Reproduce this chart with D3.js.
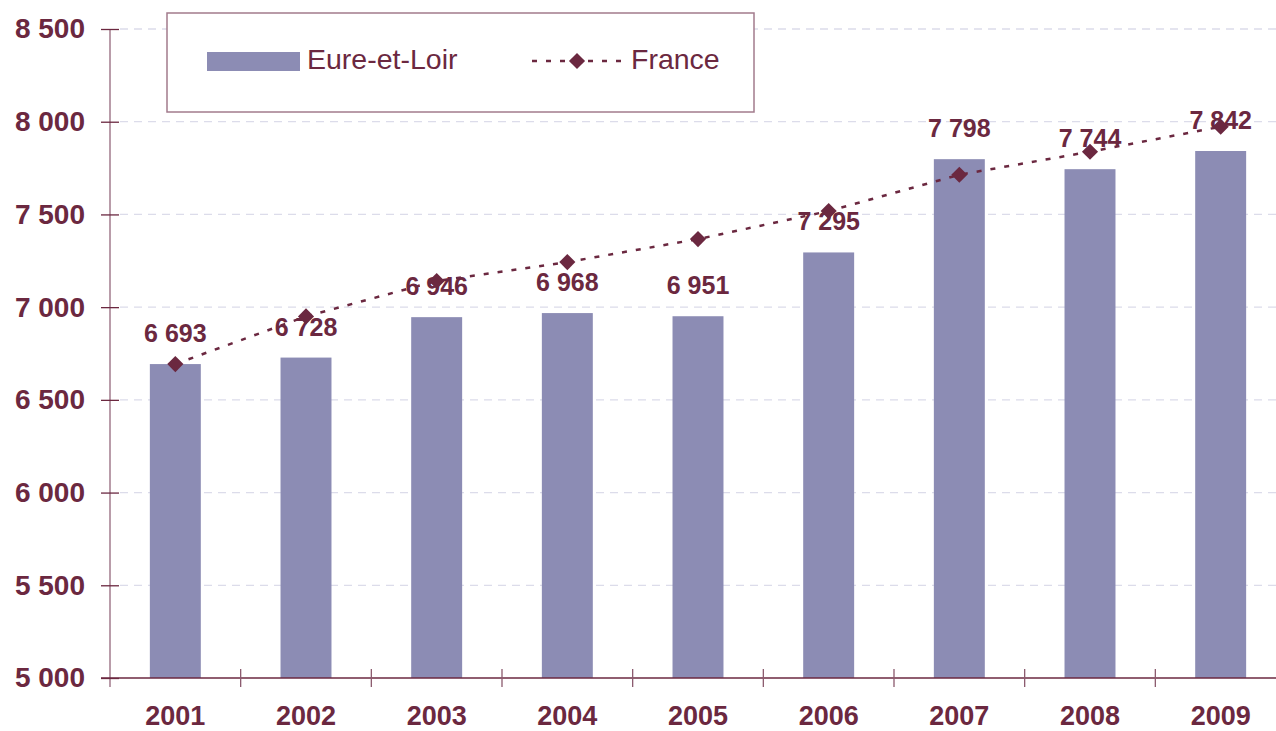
<!DOCTYPE html>
<html>
<head>
<meta charset="utf-8">
<script src="https://cdn.jsdelivr.net/npm/d3@7"></script>
<style>
  body { margin: 0; background: #fff; }
  svg { display: block; font-family: "Liberation Sans", Arial, sans-serif; }
</style>
</head>
<body>
<svg width="1276" height="731"></svg>
<script>
var years = ["2001", "2002", "2003", "2004", "2005", "2006", "2007", "2008", "2009"]
var eureEtLoir = [6693, 6728, 6946, 6968, 6951, 7295, 7798, 7744, 7842]
var france = [6693, 6950, 7141, 7243, 7367, 7518, 7714, 7838, 7973]
var yTicks = [5000, 5500, 6000, 6500, 7000, 7500, 8000, 8500]

var maroon = "#6b2840"
var barColor = "#8c8cb4"
var fmt = function (v) { return d3.format(",")(v).replace(",", " ") }

var svg = d3.select("svg")

var x = d3.scaleBand().domain(years).range([110, 1286]).paddingInner(0.61).paddingOuter(0.305)
var xCat = d3.scaleBand().domain(years).range([110, 1286])
var y = d3.scaleLinear().domain([5000, 8500]).range([678, 29])

// gridlines
svg.append("g")
  .selectAll("line")
  .data(yTicks.filter(d => d > 5000))
  .enter()
  .append("line")
  .attr("x1", 120).attr("x2", 1276)
  .attr("y1", d => y(d)).attr("y2", d => y(d))
  .attr("stroke", "#dcdcea")
  .attr("stroke-width", 1.3)
  .attr("stroke-dasharray", "8,6")

// bars
svg.append("g")
  .selectAll("rect")
  .data(years)
  .enter()
  .append("rect")
  .attr("x", d => x(d))
  .attr("width", x.bandwidth())
  .attr("y", (d, i) => y(eureEtLoir[i]))
  .attr("height", (d, i) => y(5000) - y(eureEtLoir[i]))
  .attr("fill", barColor)

// y axis
var yAxis = svg.append("g").attr("transform", "translate(110,0)")
  .call(d3.axisLeft(y).tickValues(yTicks).tickSize(9).tickFormat(fmt).tickPadding(16))
yAxis.select(".domain").attr("stroke", "#a27b8c").attr("stroke-width", 1.5).attr("d", "M0,29V687")
yAxis.selectAll(".tick line").attr("stroke", maroon).attr("stroke-width", 1.3).attr("x2", -9).attr("x1", 9)
yAxis.selectAll(".tick text")
  .attr("fill", maroon).attr("font-size", 28).attr("font-weight", "bold")
  .attr("font-family", "Liberation Sans, Arial, sans-serif")

// x axis
var xAxis = svg.append("g").attr("transform", "translate(0,678)")
  .call(d3.axisBottom(xCat).tickSize(0).tickPadding(0))
xAxis.select(".domain").attr("stroke", maroon).attr("stroke-width", 1.5).attr("d", "M101,0H1276")
xAxis.selectAll(".tick text")
  .attr("fill", maroon).attr("font-size", 27).attr("font-weight", "bold")
  .attr("font-family", "Liberation Sans, Arial, sans-serif")
  .attr("dy", 0).attr("y", 47)
svg.append("g")
  .selectAll("line")
  .data(years)
  .enter()
  .append("line")
  .attr("x1", d => xCat(d) + xCat.bandwidth()).attr("x2", d => xCat(d) + xCat.bandwidth())
  .attr("y1", 669).attr("y2", 687)
  .attr("stroke", "#8b5a6e").attr("stroke-width", 1.3)

// france line
var line = d3.line()
  .x((d, i) => xCat(years[i]) + xCat.bandwidth() / 2)
  .y(d => y(d))
svg.append("path")
  .datum(france)
  .attr("d", line)
  .attr("fill", "none")
  .attr("stroke", maroon)
  .attr("stroke-width", 2.5)
  .attr("stroke-dasharray", "5,9")

svg.append("g")
  .selectAll("path")
  .data(france)
  .enter()
  .append("path")
  .attr("d", d3.symbol().type(d3.symbolSquare).size(130))
  .attr("transform", (d, i) => "translate(" + (xCat(years[i]) + xCat.bandwidth() / 2) + "," + y(d) + ") rotate(45)")
  .attr("fill", maroon)

// value labels
svg.append("g")
  .selectAll("text")
  .data(years)
  .enter()
  .append("text")
  .attr("x", d => x(d) + x.bandwidth() / 2)
  .attr("y", (d, i) => y(eureEtLoir[i]) - 22)
  .attr("text-anchor", "middle")
  .attr("fill", maroon)
  .attr("font-size", 25)
  .attr("font-weight", "bold")
  .text((d, i) => fmt(eureEtLoir[i]))

// legend
var legend = svg.append("g")
legend.append("rect")
  .attr("x", 167).attr("y", 13).attr("width", 587).attr("height", 99)
  .attr("fill", "#fff").attr("stroke", "#a27b8c").attr("stroke-width", 1.5)
legend.append("rect")
  .attr("x", 207).attr("y", 52).attr("width", 93).attr("height", 19)
  .attr("fill", barColor)
legend.append("text")
  .attr("x", 307).attr("y", 69)
  .attr("fill", maroon).attr("font-size", 28.5)
  .text("Eure-et-Loir")
legend.append("line")
  .attr("x1", 532).attr("x2", 622).attr("y1", 61).attr("y2", 61)
  .attr("stroke", maroon).attr("stroke-width", 2.5).attr("stroke-dasharray", "5,9")
legend.append("path")
  .attr("d", d3.symbol().type(d3.symbolSquare).size(130))
  .attr("transform", "translate(577,61) rotate(45)")
  .attr("fill", maroon)
legend.append("text")
  .attr("x", 631).attr("y", 69)
  .attr("fill", maroon).attr("font-size", 28.5)
  .text("France")
</script>
</body>
</html>
